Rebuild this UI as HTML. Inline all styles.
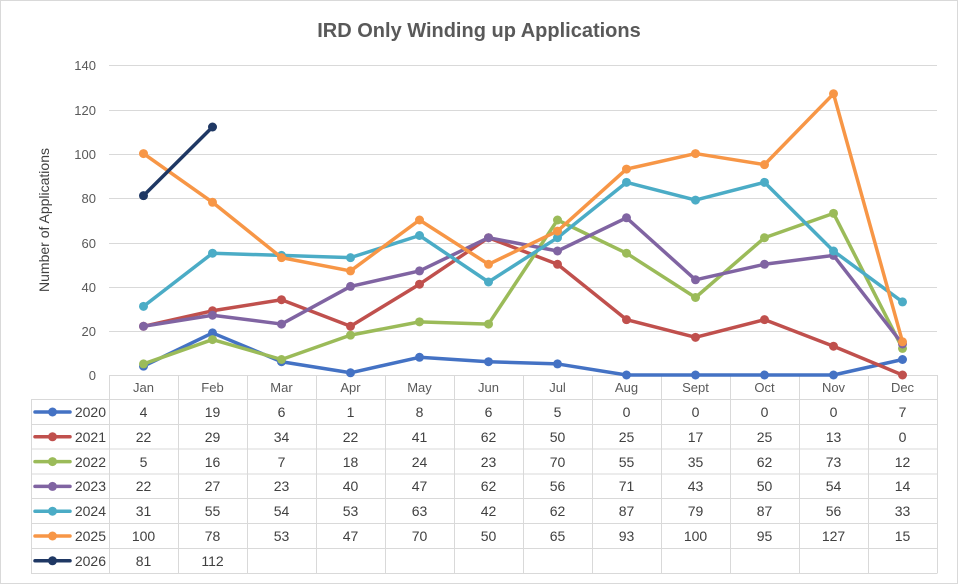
<!DOCTYPE html>
<html><head><meta charset="utf-8"><style>
body{margin:0;background:#fff;}
svg{display:block;font-family:"Liberation Sans",Arial,sans-serif;}
</style></head><body>
<svg id="s" width="958" height="584" xmlns="http://www.w3.org/2000/svg">
<rect x="0.5" y="0.5" width="957" height="583" fill="#fff" stroke="#d9d9d9"/>
<text x="479" y="37" text-anchor="middle" font-size="20" font-weight="bold" fill="#595959">IRD Only Winding up Applications</text>
<g stroke="#d9d9d9" stroke-width="1">
<line x1="109" x2="937" y1="65.5" y2="65.5"/><line x1="109" x2="937" y1="110.5" y2="110.5"/>
<line x1="109" x2="937" y1="154.5" y2="154.5"/><line x1="109" x2="937" y1="198.5" y2="198.5"/>
<line x1="109" x2="937" y1="243.5" y2="243.5"/><line x1="109" x2="937" y1="287.5" y2="287.5"/>
<line x1="109" x2="937" y1="331.5" y2="331.5"/>
</g>
<g font-size="13" fill="#595959" text-anchor="end">
<text x="96" y="70">140</text><text x="96" y="115">120</text><text x="96" y="159">100</text>
<text x="96" y="203">80</text><text x="96" y="248">60</text><text x="96" y="292">40</text>
<text x="96" y="336">20</text><text x="96" y="380">0</text>
</g>
<text transform="translate(49,220) rotate(-90)" text-anchor="middle" font-size="14" fill="#404040">Number of Applications</text>
<g id="tbl" stroke="#d9d9d9" stroke-width="1" fill="none"></g>
<g id="lines"></g>
<g font-size="13" fill="#595959" text-anchor="middle">
<text x="143.5" y="392">Jan</text><text x="212.5" y="392">Feb</text><text x="281.5" y="392">Mar</text><text x="350.5" y="392">Apr</text><text x="419.5" y="392">May</text><text x="488.5" y="392">Jun</text><text x="557.5" y="392">Jul</text><text x="626.5" y="392">Aug</text><text x="695.5" y="392">Sept</text><text x="764.5" y="392">Oct</text><text x="833.5" y="392">Nov</text><text x="902.5" y="392">Dec</text>
</g>
<g font-size="14" fill="#404040" text-anchor="middle">
<text y="417"><tspan x="143.5">4</tspan><tspan x="212.5">19</tspan><tspan x="281.5">6</tspan><tspan x="350.5">1</tspan><tspan x="419.5">8</tspan><tspan x="488.5">6</tspan><tspan x="557.5">5</tspan><tspan x="626.5">0</tspan><tspan x="695.5">0</tspan><tspan x="764.5">0</tspan><tspan x="833.5">0</tspan><tspan x="902.5">7</tspan></text>
<text y="442"><tspan x="143.5">22</tspan><tspan x="212.5">29</tspan><tspan x="281.5">34</tspan><tspan x="350.5">22</tspan><tspan x="419.5">41</tspan><tspan x="488.5">62</tspan><tspan x="557.5">50</tspan><tspan x="626.5">25</tspan><tspan x="695.5">17</tspan><tspan x="764.5">25</tspan><tspan x="833.5">13</tspan><tspan x="902.5">0</tspan></text>
<text y="467"><tspan x="143.5">5</tspan><tspan x="212.5">16</tspan><tspan x="281.5">7</tspan><tspan x="350.5">18</tspan><tspan x="419.5">24</tspan><tspan x="488.5">23</tspan><tspan x="557.5">70</tspan><tspan x="626.5">55</tspan><tspan x="695.5">35</tspan><tspan x="764.5">62</tspan><tspan x="833.5">73</tspan><tspan x="902.5">12</tspan></text>
<text y="491"><tspan x="143.5">22</tspan><tspan x="212.5">27</tspan><tspan x="281.5">23</tspan><tspan x="350.5">40</tspan><tspan x="419.5">47</tspan><tspan x="488.5">62</tspan><tspan x="557.5">56</tspan><tspan x="626.5">71</tspan><tspan x="695.5">43</tspan><tspan x="764.5">50</tspan><tspan x="833.5">54</tspan><tspan x="902.5">14</tspan></text>
<text y="516"><tspan x="143.5">31</tspan><tspan x="212.5">55</tspan><tspan x="281.5">54</tspan><tspan x="350.5">53</tspan><tspan x="419.5">63</tspan><tspan x="488.5">42</tspan><tspan x="557.5">62</tspan><tspan x="626.5">87</tspan><tspan x="695.5">79</tspan><tspan x="764.5">87</tspan><tspan x="833.5">56</tspan><tspan x="902.5">33</tspan></text>
<text y="541"><tspan x="143.5">100</tspan><tspan x="212.5">78</tspan><tspan x="281.5">53</tspan><tspan x="350.5">47</tspan><tspan x="419.5">70</tspan><tspan x="488.5">50</tspan><tspan x="557.5">65</tspan><tspan x="626.5">93</tspan><tspan x="695.5">100</tspan><tspan x="764.5">95</tspan><tspan x="833.5">127</tspan><tspan x="902.5">15</tspan></text>
<text y="566"><tspan x="143.5">81</tspan><tspan x="212.5">112</tspan></text>
</g>
<g font-size="14" fill="#404040" text-anchor="end">
<text x="106" y="417">2020</text><text x="106" y="442">2021</text><text x="106" y="467">2022</text><text x="106" y="491">2023</text><text x="106" y="516">2024</text><text x="106" y="541">2025</text><text x="106" y="566">2026</text>
</g>
</svg>
<script>
var NS="http://www.w3.org/2000/svg";
function el(t,a,p){var e=document.createElementNS(NS,t);for(var k in a)e.setAttribute(k,a[k]);p.appendChild(e);return e;}
var tb=document.getElementById('tbl');
var rows=[375,399.5,424.5,449,474,498.5,523.5,548.5,573.5];
// header row lines
el('line',{x1:109,x2:937,y1:375.5,y2:375.5},tb);
for(var i=1;i<rows.length;i++){el('line',{x1:31,x2:937,y1:rows[i],y2:rows[i]},tb);}
el('line',{x1:31.5,x2:31.5,y1:399.5,y2:573.5},tb);
for(var c=0;c<=12;c++){var x=109.5+69*c;el('line',{x1:x,x2:x,y1:375,y2:573.5},tb);}
var data=[
["#4472c4",[4,19,6,1,8,6,5,0,0,0,0,7]],
["#c0504d",[22,29,34,22,41,62,50,25,17,25,13,0]],
["#9bbb59",[5,16,7,18,24,23,70,55,35,62,73,12]],
["#8064a2",[22,27,23,40,47,62,56,71,43,50,54,14]],
["#4bacc6",[31,55,54,53,63,42,62,87,79,87,56,33]],
["#f79646",[100,78,53,47,70,50,65,93,100,95,127,15]],
["#1f3864",[81,112]]];
var lg=document.getElementById('lines');
data.forEach(function(d,r){
 var pts=d[1].map(function(v,i){return [143.5+69*i,375-v*2.2143];});
 el('polyline',{points:pts.map(function(p){return p.join(',')}).join(' '),fill:'none',stroke:d[0],'stroke-width':3.5,'stroke-linejoin':'round','stroke-linecap':'round'},lg);
 pts.forEach(function(p){el('circle',{cx:p[0],cy:p[1],r:4.5,fill:d[0]},lg);});
 var y=412+24.8*r;
 el('line',{x1:35,x2:70,y1:y,y2:y,stroke:d[0],'stroke-width':3.5,'stroke-linecap':'round'},lg);
 el('circle',{cx:52.5,cy:y,r:4.5,fill:d[0]},lg);
});
</script>
</body></html>
